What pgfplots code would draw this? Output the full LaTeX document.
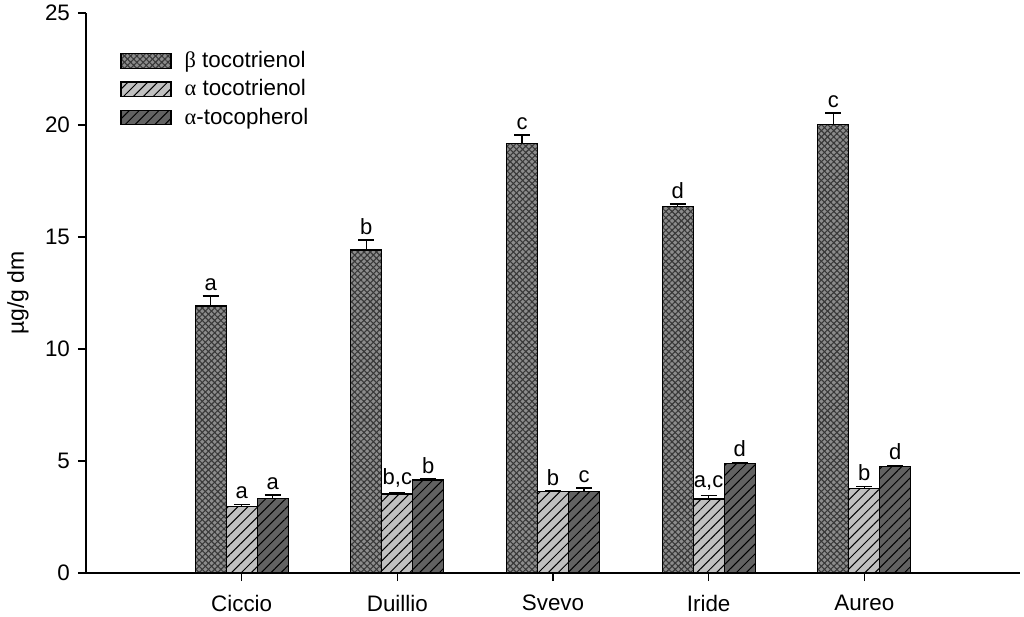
\documentclass[border=0pt]{standalone}
\usepackage{fontspec}
\setmainfont{Liberation Sans}
\newfontfamily\grk{Liberation Serif}
\usepackage{pgfplots}
\pgfplotsset{compat=1.18}
\usepackage{pgfplotstable}
\usetikzlibrary{patterns,patterns.meta}

\definecolor{betafill}{HTML}{8C8C8C}
\definecolor{betadots}{HTML}{383838}
\definecolor{lightbar}{HTML}{C0C0C0}
\definecolor{darkbar}{HTML}{626262}

% x  mean  err  letter
\pgfplotstableread{
x y ey lab
1 11.92 0.45 a
2 14.42 0.45 b
3 19.18 0.37 c
4 16.37 0.10 d
5 20.04 0.50 c
}\betatoco
\pgfplotstableread{
x y ey lab
1 2.96 0.10 a
2 3.53 0.04 b,c
3 3.63 0.03 b
4 3.30 0.16 a,c
5 3.78 0.09 b
}\alphatoco
\pgfplotstableread{
x y ey lab
1 3.33 0.15 a
2 4.15 0.05 b
3 3.63 0.17 c
4 4.90 0.04 d
5 4.75 0.05 d
}\alphatocoph

\begin{document}
\begin{tikzpicture}
\begin{axis}[
  scale only axis,
  width=467pt, height=280pt,
  xmin=0, xmax=6,
  ymin=0, ymax=25,
  ytick={0,5,...,25},
  xtick={1,2,3,4,5},
  xticklabels={Ciccio,Duillio,Svevo,Iride,Aureo},
  axis x line*=bottom,
  axis y line*=left,
  axis line style={-, line width=0.7pt},
  tick style={black, line width=0.7pt},
  tick align=outside,
  major tick length=4pt,
  /pgf/number format/assume math mode=true,
  tick label style={font=\fontsize{11.2}{13}\selectfont},
  xticklabel style={yshift=-3.5pt},
  yticklabel style={xshift=-0.5pt},
  ylabel={µg/g dm},
  ylabel style={at={(axis description cs:-0.0728,0.5)}, anchor=center, font=\fontsize{11.5}{13}\selectfont},
  ybar=0pt,
  bar width=15.5pt,
  clip=false,
  error bars/y dir=plus,
  error bars/y explicit,
  error bars/error bar style={black, line width=0.7pt},
  error bars/error mark options={black, line width=0.7pt, mark size=4pt, rotate=90},
  nodes near coords,
  point meta=explicit symbolic,
  visualization depends on={\thisrow{ey} \as \ey},
  every node near coord/.append style={yshift=\ey*11.2pt, anchor=south, inner sep=2.5pt, black, font=\fontsize{11}{13}\selectfont},
  legend image code/.code={\draw[#1] (0pt,-3.6pt) rectangle (25pt,3.6pt);},
  legend style={draw=none, fill=none, at={(axis description cs:0,1)}, anchor=north west,
    xshift=14pt, yshift=-15pt, row sep=0.5pt, column sep=4.5pt, font=\fontsize{11.2}{13}\selectfont},
  legend cell align=left,
]
\addplot[draw=black, line width=0.6pt, fill=betafill,
  postaction={pattern={Lines[angle=45, distance=2.2pt, line width=0.55pt]}, pattern color=betadots},
  postaction={pattern={Lines[angle=-45, distance=2.2pt, line width=0.55pt]}, pattern color=betadots}]
  table[x=x, y=y, y error=ey, meta=lab] {\betatoco};
\addlegendentry{{\grk β} tocotrienol}
\addplot[draw=black, line width=0.6pt, fill=lightbar,
  postaction={pattern={Lines[angle=45, distance=3.5pt, line width=0.5pt]}, pattern color=black}]
  table[x=x, y=y, y error=ey, meta=lab] {\alphatoco};
\addlegendentry{{\grk α} tocotrienol}
\addplot[draw=black, line width=0.6pt, fill=darkbar,
  postaction={pattern={Lines[angle=45, distance=3.5pt, line width=0.5pt]}, pattern color=black}]
  table[x=x, y=y, y error=ey, meta=lab] {\alphatocoph};
\addlegendentry{{\grk α}-tocopherol}
\end{axis}
\pgfresetboundingbox
\path ([xshift=-43pt,yshift=-21.5pt]current axis.south west) rectangle ([xshift=2pt,yshift=6.5pt]current axis.north east);
\end{tikzpicture}
\end{document}
